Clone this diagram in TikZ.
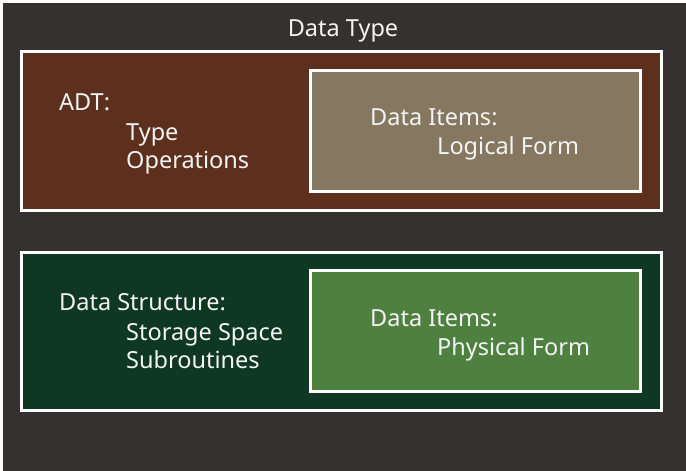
\documentclass[tikz,border=0pt]{standalone}
\usepackage{fontspec}
\setmainfont{Noto Sans}
\definecolor{bgdark}{HTML}{353130}
\definecolor{adtbrown}{HTML}{5D301E}
\definecolor{logictan}{HTML}{857760}
\definecolor{dsgreen}{HTML}{0F3823}
\definecolor{physgreen}{HTML}{4E8040}
\definecolor{txt}{HTML}{F4F4F4}
\tikzset{
  panel/.style={draw=white, line width=3pt},
  lbl/.style={anchor=base west, inner sep=0pt, text=txt, font=\fontsize{23.5}{28}\selectfont},
}
\begin{document}
\begin{tikzpicture}[x=1pt,y=-1pt]
  \useasboundingbox (0,0) rectangle (686,471);
  \fill[white] (0,0) rectangle (686,471);
  \fill[bgdark] (3,3) rectangle (686,471);

  % title
  \node[lbl, anchor=base] (title) at (343,36) {Data Type};

  % abstract data type panel
  \draw[panel, fill=adtbrown] (21.5,51.5) rectangle (661.5,210.5);
  \draw[panel, fill=logictan] (310.5,70.5) rectangle (640.5,191.5);
  \node[lbl] (adt) at (59,110) {ADT:};
  \node[lbl] (type) at (126,140) {Type};
  \node[lbl] (ops) at (126,168) {Operations};
  \node[lbl] (items1) at (370,125) {Data Items:};
  \node[lbl] (logical) at (437,154) {Logical Form};

  % data structure panel
  \draw[panel, fill=dsgreen] (21.5,252.5) rectangle (661.5,410.5);
  \draw[panel, fill=physgreen] (310.5,270.5) rectangle (640.5,391.5);
  \node[lbl] (ds) at (59,310) {Data Structure:};
  \node[lbl] (storage) at (126,340) {Storage Space};
  \node[lbl] (subr) at (126,368) {Subroutines};
  \node[lbl] (items2) at (370,326) {Data Items:};
  \node[lbl] (physical) at (437,355) {Physical Form};
\end{tikzpicture}
\end{document}
